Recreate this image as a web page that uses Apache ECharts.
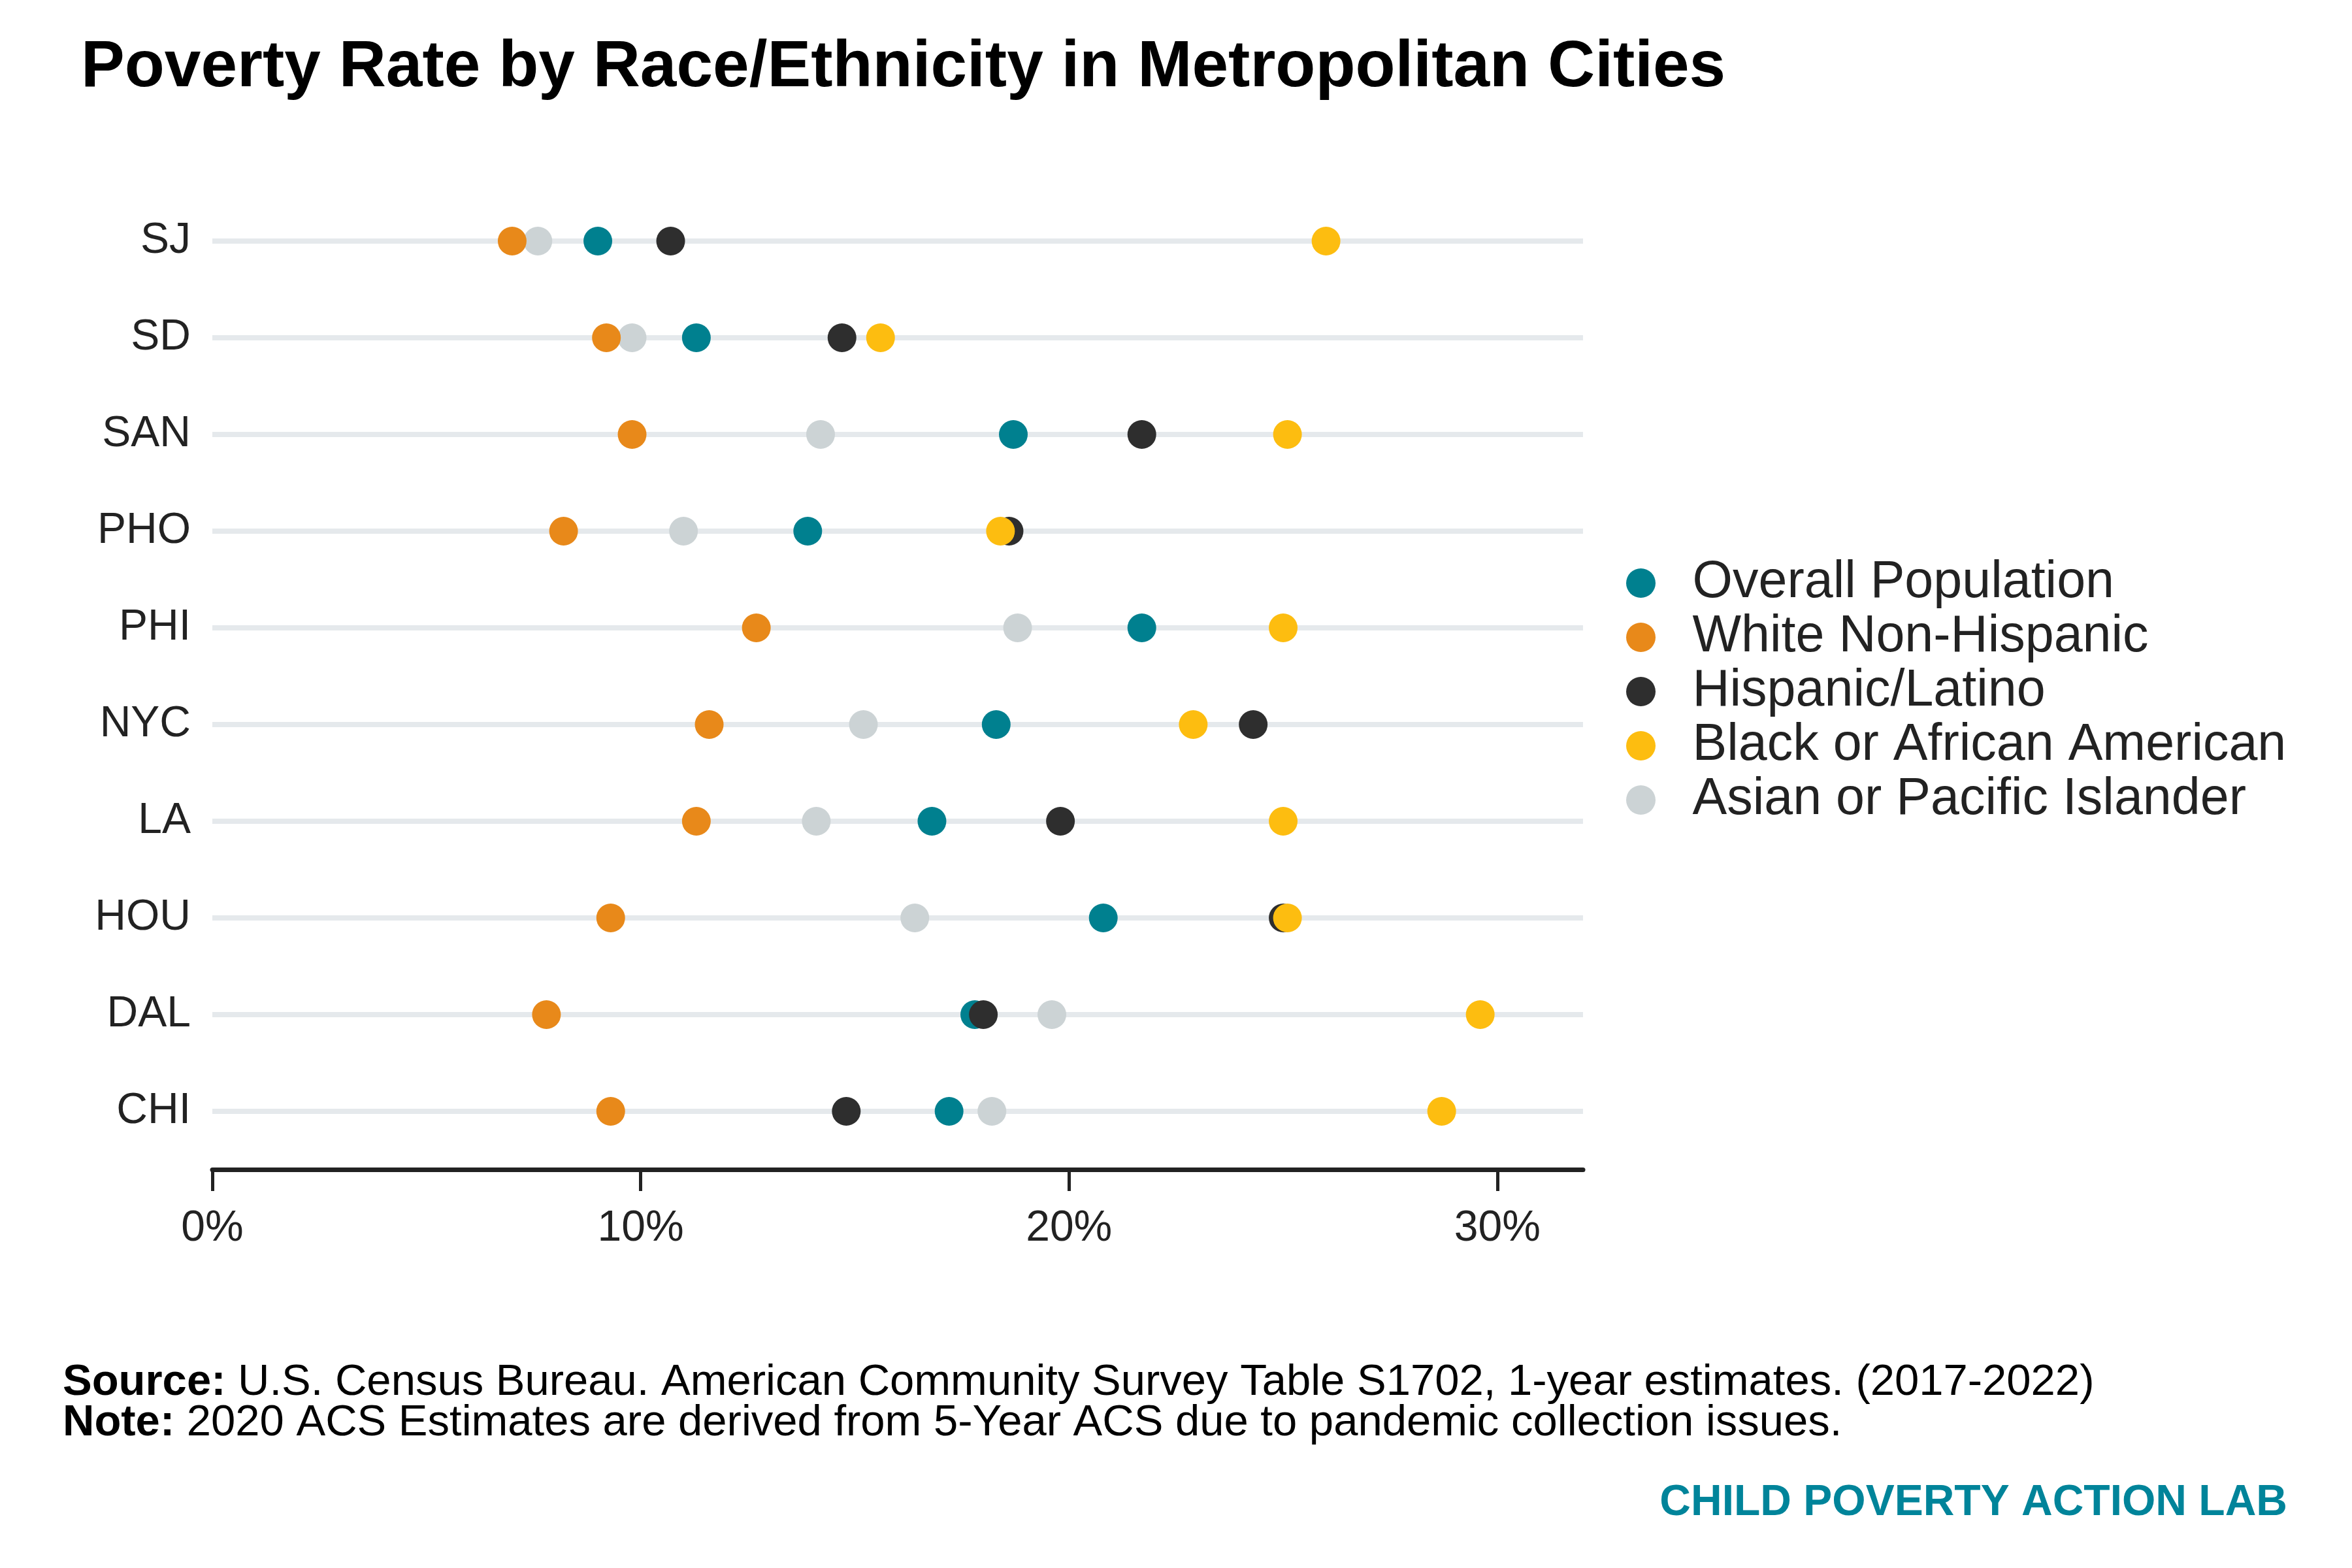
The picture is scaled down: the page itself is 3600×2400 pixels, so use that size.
<!DOCTYPE html>
<html>
<head>
<meta charset="utf-8">
<script src="https://cdn.jsdelivr.net/npm/echarts@6/dist/echarts.min.js"></script>
<style>
  html, body { margin: 0; padding: 0; background: #fff; }
  #chart { width: 3600px; height: 2400px; }
</style>
</head>
<body>
<div id="chart"></div>
<script>
// cities, bottom to top (category axis runs upward)
const cities = ['CHI', 'DAL', 'HOU', 'LA', 'NYC', 'PHI', 'PHO', 'SAN', 'SD', 'SJ'];

// poverty rate (%) per group, same order as cities
const overall  = [17.2, 17.8, 20.8, 16.8, 18.3, 21.7, 13.9, 18.7, 11.3, 9.0];
const white    = [9.3, 7.8, 9.3, 11.3, 11.6, 12.7, 8.2, 9.8, 9.2, 7.0];
const hispanic = [14.8, 18.0, 25.0, 19.8, 24.3, null, 18.6, 21.7, 14.7, 10.7];
const black    = [28.7, 29.6, 25.1, 25.0, 22.9, 25.0, 18.4, 25.1, 15.6, 26.0];
const asian    = [18.2, 19.6, 16.4, 14.1, 15.2, 18.8, 11.0, 14.2, 9.8, 7.6];

const xTicks = [0, 10, 20, 30];

const groups = [
  { name: 'Overall Population',         values: overall,  color: '#00808f' },
  { name: 'Asian or Pacific Islander',  values: asian,    color: '#ccd3d5' },
  { name: 'Hispanic/Latino',            values: hispanic, color: '#2e2e2e' },
  { name: 'Black or African American',  values: black,    color: '#fdbd10' },
  { name: 'White Non-Hispanic',         values: white,    color: '#e8891a' },
];
const legendOrder = ['Overall Population', 'White Non-Hispanic', 'Hispanic/Latino',
                     'Black or African American', 'Asian or Pacific Islander'];

const FONT = '"Liberation Sans", Arial, sans-serif';
const chart = echarts.init(document.getElementById('chart'));

chart.setOption({
  backgroundColor: '#ffffff',
  animation: false,
  textStyle: { fontFamily: FONT },
  title: {
    text: 'Poverty Rate by Race/Ethnicity in Metropolitan Cities',
    left: 119, top: 49,
    textStyle: { fontFamily: FONT, fontSize: 100, fontWeight: 'bold', color: '#000' },
  },
  legend: {
    orient: 'vertical',
    left: 2484, top: 846,
    itemWidth: 148, itemHeight: 45, itemGap: 0,
    data: legendOrder,
    textStyle: { fontFamily: FONT, fontSize: 79, color: '#222', lineHeight: 83 },
  },
  grid: { left: 325, right: 1177, top: 295, bottom: 625 },
  xAxis: {
    type: 'value',
    min: 0, max: 32, interval: 10,
    offset: 15,
    axisLine: { show: true, lineStyle: { color: '#222', width: 7 } },
    axisTick: { show: true, length: 33, lineStyle: { color: '#222', width: 5 },
                customValues: xTicks },
    axisLabel: { fontSize: 66, color: '#222', margin: 58, fontFamily: FONT,
                 customValues: xTicks, formatter: v => v + '%' },
    splitLine: { show: false },
  },
  yAxis: {
    type: 'category',
    data: cities,
    axisLine: { show: false },
    // long inside ticks act as the light horizontal guide lines per city
    axisTick: { show: true, inside: true, alignWithLabel: true, length: 2098,
                lineStyle: { color: '#e5e9ec', width: 8 } },
    axisLabel: { fontSize: 66, color: '#222', margin: 33, fontFamily: FONT },
    splitLine: { show: false },
  },
  series: groups.map(g => ({
    type: 'scatter',
    name: g.name,
    symbol: 'circle',
    symbolSize: 44,
    itemStyle: { color: g.color, opacity: 1 },
    data: g.values.map((v, i) => v == null ? null : [v, cities[i]]),
  })),
  graphic: [
    {
      type: 'text', left: 96, top: 2083,
      style: {
        text: '{b|Source:} U.S. Census Bureau. American Community Survey Table S1702, 1-year estimates. (2017-2022)\n' +
              '{b|Note:} 2020 ACS Estimates are derived from 5-Year ACS due to pandemic collection issues.',
        font: '67px ' + FONT, fill: '#000', lineHeight: 62,
        rich: { b: { fontWeight: 'bold', fontSize: 67, fontFamily: FONT, fill: '#000', lineHeight: 62 } },
      },
    },
    {
      type: 'text', right: 99, top: 2268,
      style: {
        text: 'CHILD POVERTY ACTION LAB',
        font: 'bold 66px ' + FONT, fill: '#00849a',
      },
    },
  ],
});
</script>
</body>
</html>
